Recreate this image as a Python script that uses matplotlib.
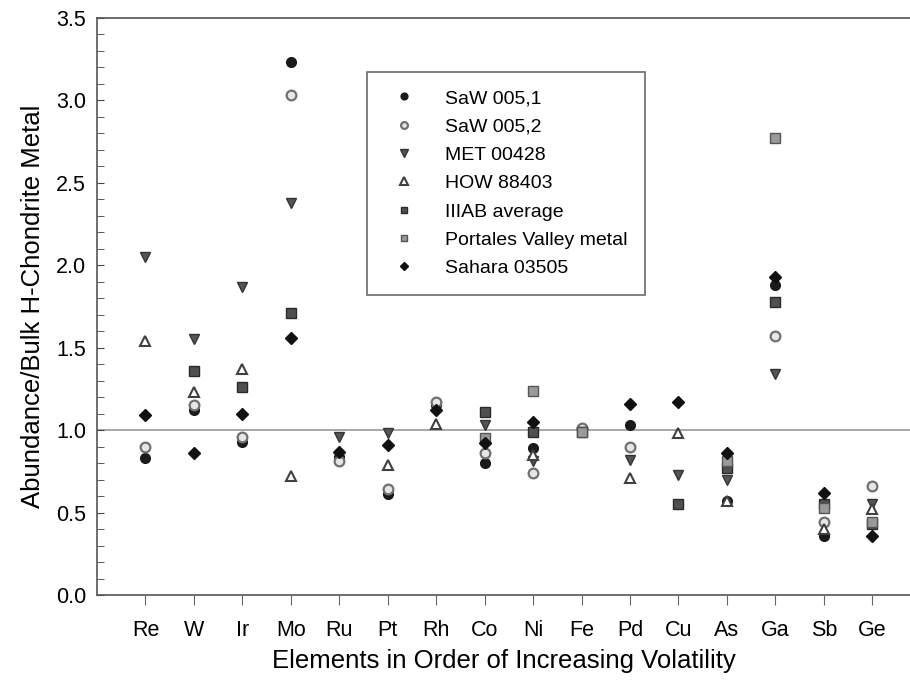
import numpy as np
import matplotlib
matplotlib.use('Agg')
import matplotlib.pyplot as plt

plt.rcParams['font.family'] = ['Liberation Sans', 'DejaVu Sans']

nan = np.nan
elements = ['Re', 'W', 'Ir', 'Mo', 'Ru', 'Pt', 'Rh', 'Co', 'Ni', 'Fe', 'Pd', 'Cu', 'As', 'Ga', 'Sb', 'Ge']

# abundance / bulk H-chondrite metal
saw_1 = [0.83, 1.12, 0.93, 3.23, 0.84, 0.61, 1.15, 0.80, 0.89, 1.00, 1.03, nan, 0.57, 1.88, 0.36, nan]
saw_2 = [0.90, 1.15, 0.96, 3.03, 0.81, 0.64, 1.17, 0.86, 0.74, 1.01, 0.90, nan, nan, 1.57, 0.44, 0.66]
met = [2.05, 1.55, 1.87, 2.38, 0.96, 0.98, nan, 1.03, 0.81, nan, 0.82, 0.73, 0.70, 1.34, nan, 0.55]
how = [1.54, 1.23, 1.37, 0.72, nan, 0.79, 1.04, nan, 0.85, nan, 0.71, 0.98, 0.57, nan, 0.40, 0.52]
iiiab = [nan, 1.36, 1.26, 1.71, nan, nan, nan, 1.11, 0.99, 0.99, nan, 0.55, 0.77, 1.78, 0.55, 0.43]
portales = [nan, nan, nan, nan, nan, nan, nan, 0.95, 1.24, 0.99, nan, nan, 0.81, 2.77, 0.53, 0.44]
sahara = [1.09, 0.86, 1.10, 1.56, 0.87, 0.91, 1.12, 0.92, 1.05, nan, 1.16, 1.17, 0.86, 1.93, 0.62, 0.36]

x = np.arange(1, len(elements) + 1)

fig = plt.figure(figsize=(9.1, 6.87), dpi=100)
ax = fig.add_axes([0.1066, 0.1339, 0.8934, 0.840])

ax.axhline(1.0, color='#a0a0a0', lw=1.3, zorder=1)

ms = 7
ax.plot(x, saw_1, 'o', ms=ms, mfc='#1a1a1a', mec='#1a1a1a', label='SaW 005,1')
ax.plot(x, saw_2, 'o', ms=ms, mfc='#e6e6e6', mec='#707070', mew=1.6, label='SaW 005,2')
ax.plot(x, met, 'v', ms=ms + 0.5, mfc='#555555', mec='#333333', label='MET 00428')
ax.plot(x, how, '^', ms=ms + 0.5, mfc='white', mec='#404040', mew=1.5, label='HOW 88403')
ax.plot(x, iiiab, 's', ms=ms, mfc='#505050', mec='#2a2a2a', label='IIIAB average')
ax.plot(x, portales, 's', ms=ms, mfc='#9a9a9a', mec='#555555', label='Portales Valley metal')
ax.plot(x, sahara, 'D', ms=ms - 0.5, mfc='#111111', mec='#111111', label='Sahara 03505')

ax.set_xlim(0, 16.78)
ax.set_ylim(0, 3.5)
ax.set_xticks(x)
ax.set_xticklabels(elements, fontsize=15.5)
ax.set_yticks(np.arange(0, 3.51, 0.5))
ax.set_yticklabels(['%.1f' % v for v in np.arange(0, 3.51, 0.5)], fontsize=15.5)
ax.set_yticks(np.arange(0, 3.51, 0.1), minor=True)
ax.tick_params(axis='y', which='both', direction='in', length=5, color='#444444', pad=8)
ax.tick_params(axis='x', direction='out', length=7, color='#666666', pad=11)
ax.spines['right'].set_visible(False)
for s in ['left', 'top', 'bottom']:
    ax.spines[s].set_color('#555555')
    ax.spines[s].set_linewidth(1.2)

ax.set_xlabel('Elements in Order of Increasing Volatility', fontsize=18.5, labelpad=6)
ax.set_ylabel('Abundance/Bulk H-Chondrite Metal', fontsize=18.5, labelpad=8)

leg = ax.legend(loc='upper left', bbox_to_anchor=(0.332, 0.906), fontsize=14,
                fancybox=False, edgecolor='#444444', markerscale=0.7,
                handletextpad=1.1, labelspacing=0.55, borderpad=0.9, borderaxespad=0)
leg.get_frame().set_linewidth(1.2)

fig.savefig('out.png', dpi=100)
